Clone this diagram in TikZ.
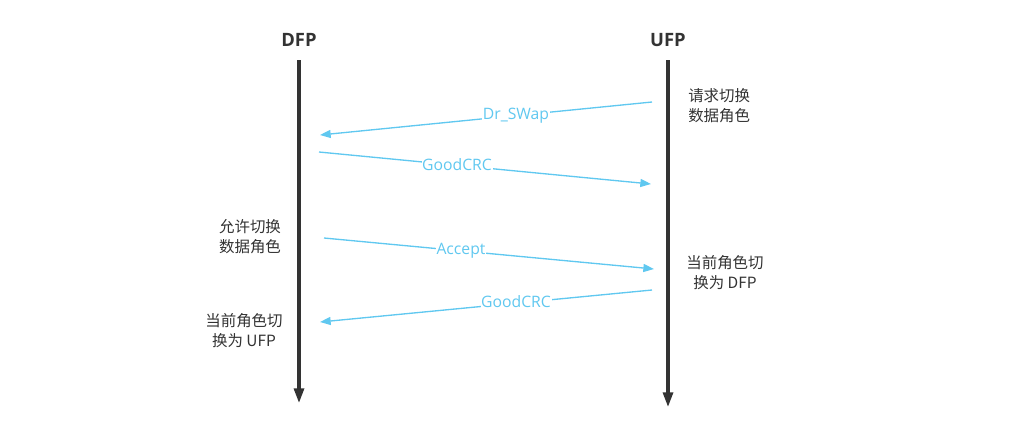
\documentclass[tikz,border=0pt]{standalone}
\usepackage{fontspec}
\setmainfont{Open Sans}
\newfontfamily\cjk{Noto Sans CJK SC}
\usetikzlibrary{arrows.meta}
\definecolor{txt}{RGB}{51,51,51}
\definecolor{msg}{RGB}{96,200,240}
\tikzset{
  x=0.75pt, y=-0.75pt,
  head/.style={font=\bfseries\fontsize{13.8}{16}\selectfont, text=txt},
  life/.style={draw=txt, line width=2.3pt, -{Triangle[length=11pt,width=7.5pt]}},
  msgline/.style={draw=msg, line width=1pt, -{Triangle[length=8pt,width=6pt]}},
  msglabel/.style={fill=white, inner sep=0.5pt, text=msg, font=\fontsize{11.8}{13}\selectfont},
  note/.style={text=txt, font=\cjk\fontsize{11.6}{15}\selectfont, inner sep=0pt},
}
\begin{document}
\begin{tikzpicture}
\useasboundingbox (0,0) rectangle (1023,437);
\node[head] (dfp) at (299,40) {DFP};
\node[head] (ufp) at (668,40) {UFP};
\coordinate (d0) at (299,60);
\coordinate (d1) at (299,403);
\coordinate (u0) at (668,60);
\coordinate (u1) at (668,407);
\draw[life] (d0) -- (d1);
\draw[life] (u0) -- (u1);
% messages
\coordinate (m1s) at (652,102); \coordinate (m1e) at (320,135);
\coordinate (m2s) at (319,152); \coordinate (m2e) at (651,184);
\coordinate (m3s) at (324,238); \coordinate (m3e) at (654,269);
\coordinate (m4s) at (652,290); \coordinate (m4e) at (320,322);
\draw[msgline] (m1s) -- (m1e);
\draw[msgline] (m2s) -- (m2e);
\draw[msgline] (m3s) -- (m3e);
\draw[msgline] (m4s) -- (m4e);
\node[msglabel] (l1) at (516,116) {Dr\_SWap};
\node[msglabel] (l2) at (457,165) {GoodCRC};
\node[msglabel] (l3) at (461,251) {Accept};
\node[msglabel] (l4) at (516,302) {GoodCRC};
% notes
\node[note, anchor=west, align=left] (n1) at (688,106) {请求切换\\数据角色};
\node[note, align=center] (n2) at (250,237) {允许切换\\数据角色};
\node[note, align=center] (n3) at (725,273) {当前角色切\\换为 DFP};
\node[note, align=center] (n4) at (244,331) {当前角色切\\换为 UFP};
\end{tikzpicture}
\end{document}
